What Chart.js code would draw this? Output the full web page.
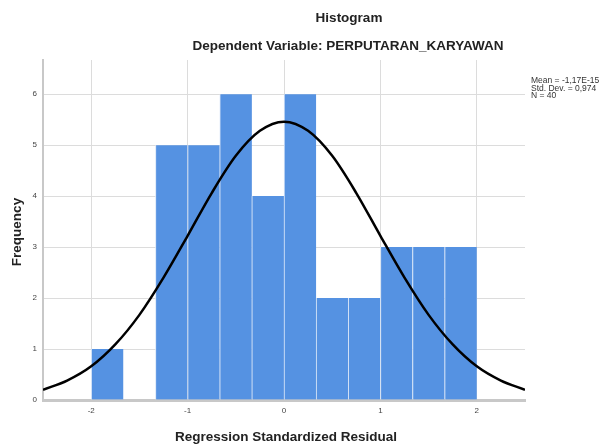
<!DOCTYPE html>
<html>
<head>
<meta charset="utf-8">
<script src="https://cdn.jsdelivr.net/npm/chart.js@4.4.1/dist/chart.umd.min.js"></script>
<style>
  html, body { margin: 0; padding: 0; background: #fff; }
  #wrap { width: 599px; height: 445px; position: relative; }
</style>
</head>
<body>
<div id="wrap"><canvas id="c"></canvas></div>
<script>
// histogram bins (center of each 1/3-wide bin) and counts
const binCenters = [-1.833, -1.5, -1.167, -0.833, -0.5, -0.167, 0.167, 0.5, 0.833, 1.167, 1.5, 1.833];
const binCounts  = [1, 0, 5, 5, 6, 4, 6, 2, 2, 3, 3, 3];

// normal curve
const curveX = [-2.5, -2.25, -2, -1.75, -1.5, -1.25, -1, -0.75, -0.5, -0.25, 0,
                0.25, 0.5, 0.75, 1, 1.25, 1.5, 1.75, 2, 2.25, 2.5];
const curveY = [0.20, 0.38, 0.66, 1.09, 1.67, 2.40, 3.22, 4.06, 4.79, 5.28, 5.46,
                5.28, 4.79, 4.06, 3.22, 2.40, 1.67, 1.09, 0.66, 0.38, 0.20];

const xTicks = [-2, -1, 0, 1, 2];
const yTicks = [0, 1, 2, 3, 4, 5, 6];
const statLines = ['Mean = -1,17E-15', 'Std. Dev. = 0,974', 'N = 40'];

const FONT = 'Arial, "Liberation Sans", sans-serif';

// titles, axis titles and the stats box are drawn by hand
const textPlugin = {
  id: 'spssText',
  afterDraw(chart) {
    const { ctx, chartArea } = chart;
    ctx.save();
    ctx.fillStyle = '#222';
    ctx.textAlign = 'center';
    ctx.textBaseline = 'middle';
    ctx.font = 'bold 13.5px ' + FONT;
    ctx.fillText('Histogram', 349, 18);
    ctx.fillText('Dependent Variable: PERPUTARAN_KARYAWAN', 348, 46);
    ctx.fillText('Regression Standardized Residual', 286, 437);
    ctx.translate(17, 232);
    ctx.rotate(-Math.PI / 2);
    ctx.fillText('Frequency', 0, 0);
    ctx.restore();

    ctx.save();
    ctx.fillStyle = '#333';
    ctx.font = '8.5px ' + FONT;
    ctx.textAlign = 'left';
    ctx.textBaseline = 'middle';
    statLines.forEach((t, i) => ctx.fillText(t, 531, 81 + i * 7.5));
    ctx.restore();
  },
};

const keepTicks = list => scale => {
  scale.ticks = list.map(v => ({ value: v }));
};

new Chart(document.getElementById('c'), {
  data: {
    datasets: [
      {
        type: 'line',
        data: curveX.map((x, i) => ({ x, y: curveY[i] })),
        borderColor: '#000',
        borderWidth: 2.5,
        pointRadius: 0,
        fill: false,
        cubicInterpolationMode: 'monotone',
        order: 0,
      },
      {
        type: 'bar',
        data: binCenters.map((x, i) => ({ x, y: binCounts[i] })),
        backgroundColor: '#5592e2',
        borderColor: '#dce8f8',
        borderWidth: { left: 1, right: 0, top: 0, bottom: 0 },
        borderSkipped: false,
        barPercentage: 1,
        categoryPercentage: 1,
        order: 1,
      },
    ],
  },
  options: {
    responsive: true,
    maintainAspectRatio: false,
    animation: false,
    layout: { padding: { top: 60, right: 74, left: 0, bottom: 0 } },
    plugins: { legend: { display: false }, tooltip: { enabled: false } },
    scales: {
      x: {
        type: 'linear',
        min: -2.5,
        max: 2.5,
        offset: false,
        afterBuildTicks: keepTicks(xTicks),
        afterFit(s) { s.height = 45; },
        ticks: { font: { size: 8, family: FONT }, color: '#444', padding: 6, maxRotation: 0 },
        grid: { color: '#dcdcdc', lineWidth: 1, drawTicks: false, offset: false },
        border: { color: '#c8c8c8', width: 3 },
      },
      y: {
        type: 'linear',
        min: 0,
        max: 6.67,
        afterBuildTicks: keepTicks(yTicks),
        afterFit(s) { s.width = 43; },
        ticks: { font: { size: 8, family: FONT }, color: '#444', padding: 6 },
        grid: { color: '#dcdcdc', lineWidth: 1, drawTicks: false },
        border: { color: '#c8c8c8', width: 2 },
      },
    },
  },
  plugins: [textPlugin],
});
</script>
</body>
</html>
